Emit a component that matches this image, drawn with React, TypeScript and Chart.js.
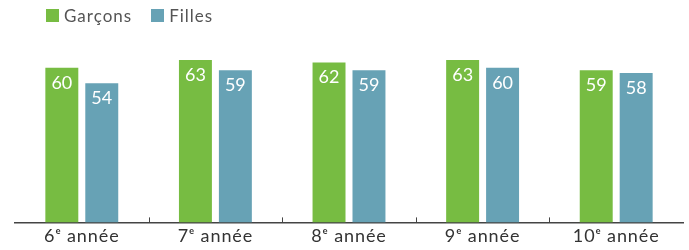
import React, { useEffect, useRef } from "react";
import { Chart, registerables } from "chart.js";

Chart.register(...registerables);

const categories = ["6ᵉ année", "7ᵉ année", "8ᵉ année", "9ᵉ année", "10ᵉ année"];
const garcons = [60, 63, 62, 63, 59];
const filles = [54, 59, 59, 60, 58];
const seriesNames = ["Garçons", "Filles"];
const colors = ["#77BC42", "#67A2B5"];
const FONT = "Lato, 'Open Sans', sans-serif";

const spacingPlugin = {
  id: "spacing",
  beforeDraw(chart: any) {
    (chart.ctx as any).letterSpacing = "0.9px";
  },
};

const labelsPlugin = {
  id: "barLabels",
  afterDatasetsDraw(chart: any) {
    const ctx = chart.ctx;
    ctx.save();
    (ctx as any).letterSpacing = "0px";
    ctx.fillStyle = "#ffffff";
    ctx.font = `18px ${FONT}`;
    ctx.textAlign = "center";
    ctx.textBaseline = "top";
    chart.data.datasets.forEach((ds: any, di: number) => {
      const meta = chart.getDatasetMeta(di);
      meta.data.forEach((bar: any, i: number) => {
        ctx.fillText(String(ds.data[i]), bar.x, bar.y + 6);
      });
    });
    // tick marks between categories
    const xs = chart.scales.x;
    const bottom = chart.chartArea.bottom;
    ctx.strokeStyle = "#444";
    ctx.lineWidth = 1;
    for (let i = 0; i < categories.length - 1; i++) {
      const x = Math.round((xs.getPixelForValue(i) + xs.getPixelForValue(i + 1)) / 2) + 0.5;
      ctx.beginPath();
      ctx.moveTo(x, bottom);
      ctx.lineTo(x, bottom - 5);
      ctx.stroke();
    }
    ctx.restore();
  },
};

export default function App() {
  const ref = useRef<HTMLCanvasElement>(null);
  useEffect(() => {
    if (!ref.current) return;
    const chart = new Chart(ref.current, {
      type: "bar",
      data: {
        labels: categories,
        datasets: [
          { label: seriesNames[0], data: garcons, backgroundColor: colors[0] },
          { label: seriesNames[1], data: filles, backgroundColor: colors[1] },
        ],
      },
      options: {
        animation: false,
        responsive: true,
        maintainAspectRatio: false,
        layout: { padding: { left: 15, right: 6, top: 42, bottom: 0 } },
        datasets: { bar: { categoryPercentage: 0.598, barPercentage: 0.825 } },
        plugins: { legend: { display: false }, tooltip: { enabled: false } },
        scales: {
          x: {
            grid: { display: false, drawTicks: false },
            border: { display: true, color: "#444", width: 1.5 },
            ticks: { color: "#333", font: { family: FONT, size: 18 }, padding: 3, maxRotation: 0 },
          },
          y: { display: false, min: 0, max: 70 },
        },
      },
      plugins: [spacingPlugin, labelsPlugin],
    });
    return () => chart.destroy();
  }, []);
  return (
    <div style={{ position: "absolute", left: 0, top: 0, width: 689, height: 250 }}>
      <div
        style={{
          position: "absolute",
          left: 46,
          top: 5,
          display: "flex",
          alignItems: "center",
          fontFamily: FONT,
          fontSize: 17,
          letterSpacing: "1px",
          color: "#555",
        }}
      >
        {seriesNames.map((n, i) => (
          <span key={n} style={{ display: "flex", alignItems: "center", marginRight: 19 }}>
            <span style={{ width: 13, height: 13, background: colors[i], display: "inline-block", marginRight: 5 }} />
            {n}
          </span>
        ))}
      </div>
      <canvas ref={ref} />
    </div>
  );
}
